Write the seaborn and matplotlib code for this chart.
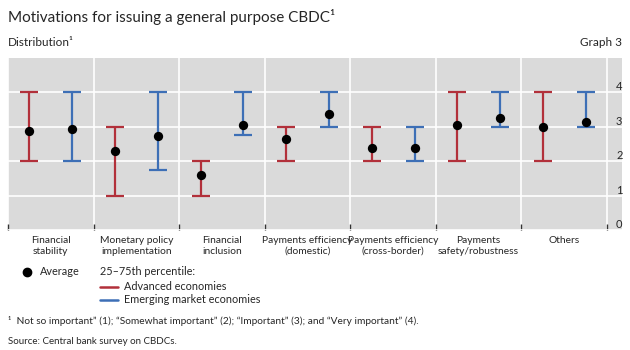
import numpy as np
import pandas as pd
import seaborn as sns
import matplotlib.pyplot as plt
from matplotlib.lines import Line2D

# Data (importance score, 1-4)
categories = ['Financial\nstability', 'Monetary policy\nimplementation', 'Financial\ninclusion',
              'Payments efficiency\n(domestic)', 'Payments efficiency\n(cross-border)',
              'Payments\nsafety/robustness', 'Others']
ae_low = [2, 1, 1, 2, 2, 2, 2]
ae_high = [4, 3, 2, 3, 3, 4, 4]
ae_mean = [2.87, 2.29, 1.61, 2.64, 2.37, 3.06, 2.99]
eme_low = [2, 1.75, 2.75, 3, 2, 3, 3]
eme_high = [4, 4, 4, 4, 3, 4, 4]
eme_mean = [2.93, 2.73, 3.04, 3.37, 2.37, 3.26, 3.15]

RED = '#B2303A'
BLUE = '#3D6FB6'

rows = []
for i, cat in enumerate(categories):
    rows.append(dict(pos=i - 0.25, group='AE', low=ae_low[i], high=ae_high[i], mean=ae_mean[i]))
    rows.append(dict(pos=i + 0.25, group='EME', low=eme_low[i], high=eme_high[i], mean=eme_mean[i]))
df = pd.DataFrame(rows)

sns.set_style('darkgrid', {'axes.facecolor': '#DADADA', 'grid.color': 'white'})
plt.rcParams['font.family'] = ['Lato', 'DejaVu Sans']

fig = plt.figure(figsize=(6.3, 3.5), dpi=100)
ax = fig.add_axes([0.0127, 0.343, 0.974, 0.491])

# 25-75th percentile ranges
for grp, col in [('AE', RED), ('EME', BLUE)]:
    d = df[df.group == grp]
    mid = (d.low + d.high) / 2
    half = (d.high - d.low) / 2
    ax.errorbar(d.pos, mid, yerr=half, fmt='none', ecolor=col, elinewidth=1.6,
                capsize=6.5, capthick=1.6, zorder=3)

# averages
sns.scatterplot(data=df, x='pos', y='mean', color='black', s=45, edgecolor='black',
                linewidth=0, zorder=4, ax=ax, legend=False)

ax.set_xlim(-0.5, 6.67)
ax.set_ylim(0, 5)
ax.set_xlabel('')
ax.set_ylabel('')

# category separators as grid, labels at centers
ax.set_xticks(np.arange(-0.5, 7, 1))
ax.set_xticklabels([])
ax.set_xticks(np.arange(len(categories)), minor=True)
ax.set_xticklabels(categories, minor=True, fontsize=7.4, linespacing=1.35)
ax.tick_params(axis='x', which='major', direction='in', length=4, color='#333333', width=1, bottom=True)
ax.tick_params(axis='x', which='minor', length=0, pad=4)
ax.grid(axis='x', which='major', color='white', linewidth=1.2)

ax.yaxis.tick_right()
ax.set_yticks([0, 1, 2, 3, 4])
ax.tick_params(axis='y', length=0, pad=-4, labelsize=8)
for lab in ax.get_yticklabels():
    lab.set_va('bottom')
ax.grid(axis='y', color='white', linewidth=1.2)
for s in ax.spines.values():
    s.set_visible(False)

# header
fig.text(0.0127, 0.952, 'Motivations for issuing a general purpose CBDC¹', fontsize=11, va='center')
fig.text(0.0127, 0.88, 'Distribution¹', fontsize=8.5, va='center')
fig.text(0.987, 0.88, 'Graph 3', fontsize=8.5, va='center', ha='right')

# legend
fig.add_artist(Line2D([0.043], [0.223], marker='o', color='black', markersize=6, linestyle='none'))
fig.text(0.064, 0.223, 'Average', fontsize=7.8, va='center')
fig.text(0.159, 0.223, '25–75th percentile:', fontsize=7.8, va='center')
fig.add_artist(Line2D([0.159, 0.187], [0.18, 0.18], color=RED, linewidth=1.8))
fig.text(0.197, 0.18, 'Advanced economies', fontsize=7.8, va='center')
fig.add_artist(Line2D([0.159, 0.187], [0.143, 0.143], color=BLUE, linewidth=1.8))
fig.text(0.197, 0.143, 'Emerging market economies', fontsize=7.8, va='center')

# footnotes
fig.text(0.0127, 0.083, '¹  Not so important” (1); “Somewhat important” (2); “Important” (3); and “Very important” (4).',
         fontsize=7.3, va='center')
fig.text(0.0127, 0.025, 'Source: Central bank survey on CBDCs.', fontsize=7, va='center')

fig.savefig('out.png', dpi=100)
